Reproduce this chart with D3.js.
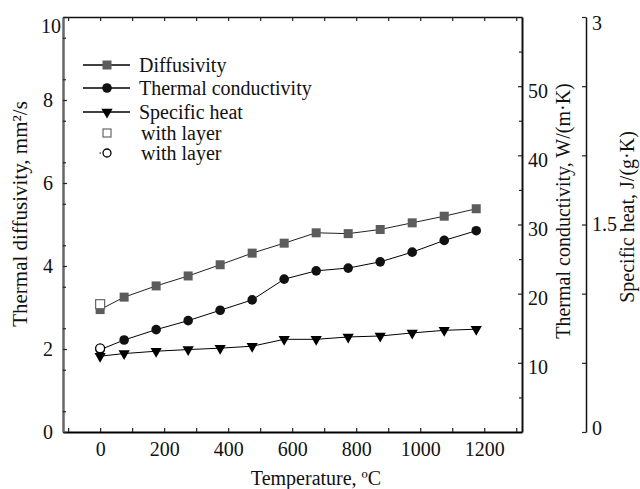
<!DOCTYPE html>
<html><head><meta charset="utf-8">
<script src="https://cdn.jsdelivr.net/npm/d3@7"></script>
<style>
body{margin:0;background:#fff;}
svg, svg text{font-family:"Liberation Serif","DejaVu Serif","Times New Roman",serif !important;}
</style></head>
<body><svg id="c" width="640" height="489"></svg>
<script>
const temps = [0, 75, 175, 275, 375, 475, 575, 675, 775, 875, 975, 1075, 1175];
const diffusivity = [2.95, 3.25, 3.52, 3.76, 4.03, 4.31, 4.55, 4.80, 4.78, 4.88, 5.04, 5.20, 5.38];
const conductivity = [11.9, 13.3, 14.8, 16.1, 17.6, 19.1, 22.1, 23.3, 23.7, 24.6, 26.0, 27.7, 29.1];
const specificHeat = [0.548, 0.567, 0.584, 0.596, 0.606, 0.620, 0.670, 0.670, 0.687, 0.694, 0.716, 0.735, 0.743];
const layerTemp = [0];
const layerDiffusivity = [3.08];
const layerConductivity = [12.1];
const xTicks = [-100,0,100,200,300,400,500,600,700,800,900,1000,1100,1200,1300];
const xLabels = [0,200,400,600,800,1000,1200];
const yLeftTicks = [0,2,4,6,8,10];
const yCondTicks = [10,20,30,40,50];
const yHeatTicks = [0,1.5,3];
const yHeatLabels = ["0","1.5","3"];
const legendLabels = ["Diffusivity","Thermal conductivity","Specific heat","with layer","with layer"];

const FONT = "Liberation Serif, DejaVu Serif, serif";
const svg = d3.select("#c");
const L=63, R=522, T=17, B=432, R2=586;
const FS = 20;
const x = d3.scaleLinear([-116,1318],[L,R]);
const yL = d3.scaleLinear([0,10],[B,T]);
const yC = d3.scaleLinear([0,60],[B,T]);
const yH = d3.scaleLinear([0,3],[B,T]);
const sqFill = "#5c5c5c";

function styleText(g){ g.attr("font-family",FONT); g.selectAll("text").attr("font-size",FS).attr("font-family",FONT).attr("fill","#111"); }

// bottom axis
const gB = svg.append("g").attr("transform",`translate(0,${B})`)
  .call(d3.axisBottom(x).tickValues(xTicks).tickSizeInner(-4).tickSizeOuter(0)
    .tickFormat(d => xLabels.includes(d) ? d : ""));
gB.select(".domain").attr("stroke","#000").attr("stroke-width",2);
styleText(gB);
gB.selectAll("text").attr("dy","1.05em");
// top axis
const gT = svg.append("g").attr("transform",`translate(0,${T})`)
  .call(d3.axisTop(x).tickValues(xTicks).tickSizeInner(-4).tickSizeOuter(0).tickFormat(""));
gT.select(".domain").attr("stroke","#111").attr("stroke-width",1.5);
// left axis
const gL = svg.append("g").attr("transform",`translate(${L},0)`)
  .call(d3.axisLeft(yL).tickValues(yLeftTicks).tickSizeInner(-4).tickSizeOuter(0).tickPadding(10));
gL.select(".domain").attr("stroke","#666").attr("stroke-width",2.5);
styleText(gL);
gL.selectAll(".tick").filter(d=>d===10).select("text").attr("dx",8).attr("dy","0.75em");
svg.append("g").attr("transform",`translate(${L},0)`)
  .call(d3.axisLeft(yL).tickValues(d3.range(0.5,10,1)).tickSizeInner(-3).tickSizeOuter(0).tickFormat(""))
  .call(g=>g.select(".domain").remove());
// right frame / conductivity axis
const gR = svg.append("g").attr("transform",`translate(${R},0)`)
  .call(d3.axisRight(yC).tickValues(yCondTicks).tickSizeInner(-4).tickSizeOuter(0).tickPadding(6));
gR.select(".domain").attr("stroke","#111").attr("stroke-width",2);
styleText(gR);
gR.selectAll("text").attr("dy","0.55em");
svg.append("g").attr("transform",`translate(${R},0)`)
  .call(d3.axisRight(yC).tickValues([5,15,25,35,45,55]).tickSizeInner(-3).tickSizeOuter(0).tickFormat(""))
  .call(g=>g.select(".domain").remove());
// specific heat axis
const gH = svg.append("g").attr("transform",`translate(${R2},0)`)
  .call(d3.axisRight(yH).tickValues(yHeatTicks).tickSizeInner(0).tickSizeOuter(0).tickPadding(6)
    .tickFormat((d,i)=>yHeatLabels[i]));
gH.select(".domain").attr("stroke","#111").attr("stroke-width",1.5);
styleText(gH);
gH.selectAll(".tick").filter(d=>d===3).select("text").attr("dy","0.6em");
gH.selectAll(".tick").filter(d=>d===0).select("text").attr("dy","0.1em");
svg.append("g").attr("transform",`translate(${R2},0)`)
  .call(d3.axisLeft(yH).tickValues([0,0.5,1,1.5,2,2.5,3]).tickSizeInner(4).tickSizeOuter(0).tickFormat(""))
  .call(g=>g.select(".domain").remove());
svg.selectAll(".tick line").attr("stroke-width",1.2).attr("stroke","#222");

// axis titles
function title(tf, t, fs){
  svg.append("text").attr("transform",tf).attr("text-anchor","middle").attr("font-size",fs||FS)
    .attr("font-family",FONT).attr("fill","#111").text(t);
}
title("translate(316,485)","Temperature, ºC");
title("translate(27,214) rotate(-90)","Thermal diffusivity, mm²/s", 21);
title("translate(570,211) rotate(-90)","Thermal conductivity, W/(m·K)");
title("translate(634,217) rotate(-90)","Specific heat, J/(g·K)");

// series
const line = (ys, sc) => d3.line().x((d,i)=>x(temps[i])).y(d=>sc(d))(ys);
const tri = d3.symbol().type(d3.symbolTriangle).size(55)();
svg.append("path").attr("d",line(specificHeat,yH)).attr("fill","none").attr("stroke","#000").attr("stroke-width",1);
svg.append("path").attr("d",line(conductivity,yC)).attr("fill","none").attr("stroke","#000").attr("stroke-width",1);
svg.append("path").attr("d",line(diffusivity,yL)).attr("fill","none").attr("stroke","#222").attr("stroke-width",1);

svg.selectAll(".sq").data(diffusivity).join("rect").attr("class","sq")
  .attr("x",(d,i)=>x(temps[i])-4.5).attr("y",d=>yL(d)-4.5).attr("width",9).attr("height",9).attr("fill",sqFill);
svg.selectAll(".ci").data(conductivity).join("circle").attr("class","ci")
  .attr("cx",(d,i)=>x(temps[i])).attr("cy",d=>yC(d)).attr("r",4.8).attr("fill","#111");
svg.selectAll(".tr").data(specificHeat).join("path").attr("class","tr")
  .attr("transform",(d,i)=>`translate(${x(temps[i])},${yH(d)}) rotate(180)`).attr("d",tri).attr("fill","#000");
svg.selectAll(".osq").data(layerDiffusivity).join("rect").attr("class","osq")
  .attr("x",(d,i)=>x(layerTemp[i])-4.5).attr("y",d=>yL(d)-4.5).attr("width",9).attr("height",9)
  .attr("fill","#fff").attr("stroke","#666").attr("stroke-width",1.2);
svg.selectAll(".oci").data(layerConductivity).join("circle").attr("class","oci")
  .attr("cx",(d,i)=>x(layerTemp[i])).attr("cy",d=>yC(d)).attr("r",4.5)
  .attr("fill","#fff").attr("stroke","#000").attr("stroke-width",1.3);

// legend
const lg = svg.append("g");
const ly = [65,88,112,133,153];
legendLabels.forEach((t,i)=>{
  const y = ly[i];
  if(i<3){
    lg.append("line").attr("x1",83).attr("x2",130).attr("y1",y).attr("y2",y).attr("stroke","#000").attr("stroke-width",1.3);
  }
  if(i===0) lg.append("rect").attr("x",102.5).attr("y",y-4.5).attr("width",9).attr("height",9).attr("fill",sqFill);
  if(i===1) lg.append("circle").attr("cx",107).attr("cy",y).attr("r",4.8).attr("fill","#111");
  if(i===2) lg.append("path").attr("transform",`translate(107,${y}) rotate(180)`).attr("d",tri).attr("fill","#000");
  if(i===3) lg.append("rect").attr("x",103).attr("y",y-4).attr("width",8).attr("height",8).attr("fill","#fff").attr("stroke","#666").attr("stroke-width",1.2);
  if(i===4){
    lg.append("line").attr("x1",99.5).attr("x2",101).attr("y1",y).attr("y2",y).attr("stroke","#000");
    lg.append("circle").attr("cx",107).attr("cy",y).attr("r",4).attr("fill","#fff").attr("stroke","#000").attr("stroke-width",1.3);
  }
  lg.append("text").attr("x", i<3?139:141).attr("y",y+6.5).attr("font-size",FS).attr("font-family",FONT).attr("fill","#111").text(t);
});
</script></body></html>
